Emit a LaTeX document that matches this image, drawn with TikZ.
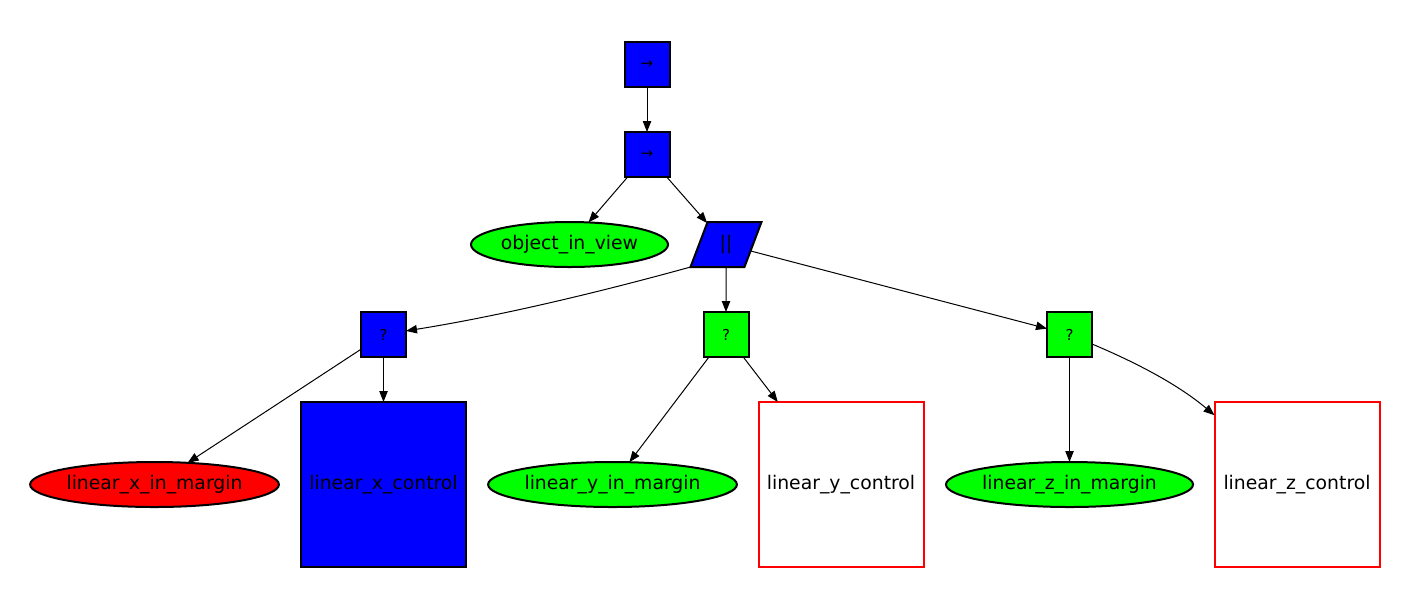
\documentclass[tikz,border=0pt]{standalone}
\usepackage{fontspec}
\setmainfont{DejaVu Sans}
\usetikzlibrary{shapes.geometric,arrows.meta}
\definecolor{gvblue}{RGB}{0,0,255}
\definecolor{gvgreen}{RGB}{0,255,0}
\definecolor{gvred}{RGB}{255,0,0}
\tikzset{
  every node/.style={inner sep=0pt, outer sep=0pt, text=black},
  small/.style={rectangle, draw=black, line width=1pt, minimum width=22.5pt, minimum height=22.5pt, font=\fontsize{7.5}{8}\selectfont},
  leaf/.style={ellipse, draw=black, line width=1pt, minimum height=22.5pt, font=\fontsize{9.4}{11}\selectfont},
  bigbox/.style={rectangle, line width=1pt, minimum width=82.5pt, minimum height=82.5pt, font=\fontsize{9.4}{11}\selectfont},
  par/.style={trapezium, trapezium left angle=72.7, trapezium right angle=107.3, trapezium stretches=true, draw=black, line width=1pt, minimum width=35.5pt, minimum height=22.5pt, font=\fontsize{9.4}{11}\selectfont},
  edge/.style={-{Triangle[length=5.5pt,width=4.2pt]}, line width=0.5pt, draw=black},
}
\begin{document}
\begin{tikzpicture}[x=0.5pt,y=-0.5pt]
\useasboundingbox (0,0) rectangle (1407,607);
\node[small, fill=gvblue] (n1) at (647,64.5) {→};
\node[small, fill=gvblue] (n2) at (647,154.5) {→};
\node[leaf, fill=gvgreen, minimum width=98.5pt] (oiv) at (569.5,244.5) {object\_in\_view};
\node[par, fill=gvblue] (p) at (726,244.5) {||};
\node[small, fill=gvblue] (xq) at (383.5,334.5) {?};
\node[small, fill=gvgreen] (yq) at (726,334.5) {?};
\node[small, fill=gvgreen] (zq) at (1069.5,334.5) {?};
\node[leaf, fill=gvred, minimum width=123.5pt] (lxm) at (154.5,484.5) {linear\_x\_in\_margin};
\node[bigbox, draw=black, fill=gvblue] (lxc) at (383.5,484.5) {linear\_x\_control};
\node[leaf, fill=gvgreen, minimum width=123.5pt] (lym) at (612.5,484.5) {linear\_y\_in\_margin};
\node[bigbox, draw=gvred] (lyc) at (841,484.5) {linear\_y\_control};
\node[leaf, fill=gvgreen, minimum width=122pt] (lzm) at (1069.5,484.5) {linear\_z\_in\_margin};
\node[bigbox, draw=gvred] (lzc) at (1297,484.5) {linear\_z\_control};
\draw[edge] (n1) -- (n2);
\draw[edge] (n2) -- (oiv);
\draw[edge] (n2) -- (p);
\draw[edge] (p.bottom left corner) .. controls (600,292) and (500,316) .. (xq);
\draw[edge] (p) -- (yq);
\draw[edge] (p) -- (zq);
\draw[edge] (xq) -- (lxm);
\draw[edge] (xq) -- (lxc);
\draw[edge] (yq) -- (lym);
\draw[edge] (yq) -- (lyc);
\draw[edge] (zq) -- (lzm);
\draw[edge] (zq) .. controls (1130,360) and (1175,382) .. (lzc);
\end{tikzpicture}
\end{document}
